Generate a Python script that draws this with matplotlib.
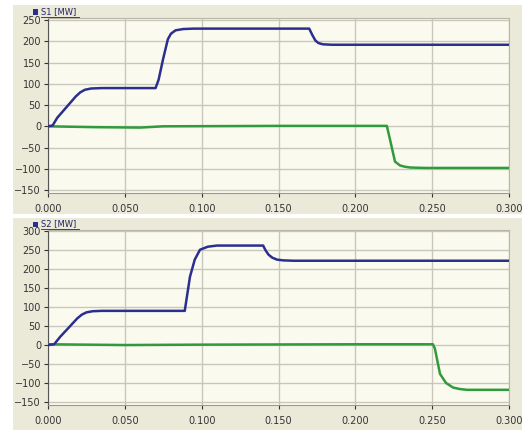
import matplotlib.pyplot as plt
from matplotlib.patches import Rectangle
from matplotlib.lines import Line2D

# S1 panel (top)
s1_t = [0, 0.003, 0.006, 0.012, 0.018, 0.021, 0.024, 0.028, 0.035, 0.070, 0.072,
        0.075, 0.078, 0.080, 0.083, 0.088, 0.095, 0.170, 0.172, 0.174, 0.176,
        0.179, 0.185, 0.300]
s1_blue = [0, 2, 20, 45, 70, 80, 86, 89, 90, 90, 110, 160, 205, 218, 226, 229,
           230, 230, 215, 202, 196, 193, 192, 192]
s1_green_t = [0, 0.030, 0.060, 0.075, 0.150, 0.2205, 0.2225, 0.2258, 0.229,
              0.232, 0.2356, 0.245, 0.300]
s1_green = [0, -2, -3, 0, 1, 1, -30, -83, -92, -95, -97, -98, -98]

# S2 panel (bottom)
s2_t = [0, 0.004, 0.008, 0.014, 0.019, 0.022, 0.025, 0.029, 0.035, 0.089,
        0.0905, 0.0924, 0.0955, 0.0989, 0.104, 0.110, 0.140, 0.1415, 0.1435,
        0.146, 0.149, 0.153, 0.160, 0.300]
s2_blue = [0, 2, 22, 48, 70, 80, 86, 89, 90, 90, 130, 180, 225, 251, 259, 262,
           262, 250, 238, 230, 225, 223, 222, 222]
s2_green_t = [0, 0.050, 0.100, 0.200, 0.2505, 0.2518, 0.2551, 0.259, 0.2636,
              0.268, 0.2727, 0.300]
s2_green = [2, 0, 1, 2, 2, -10, -76, -100, -112, -116, -118, -118]

x_ticks = [0, 0.05, 0.10, 0.15, 0.20, 0.25, 0.30]
x_labels = ["0.000", "0.050", "0.100", "0.150", "0.200", "0.250", "0.300"]

W, H = 522, 430
panel_bg = "#ebe9d8"
plot_bg = "#fbfaef"
grid_c = "#c9c7bc"
blue = "#2b2f8e"
green = "#2f9b3c"

fig = plt.figure(figsize=(W / 100, H / 100), dpi=100)
fig.patch.set_facecolor("white")


def px_rect(x0, y0, x1, y1):
    # pixel box (top-left origin) -> figure fraction [l, b, w, h]
    return [x0 / W, 1 - y1 / H, (x1 - x0) / W, (y1 - y0) / H]


def panel(box, axbox, ylim, yticks, t, blue_v, gt, green_v, label, leg_y):
    l, b, w, h = px_rect(*box)
    fig.add_artist(Rectangle((l, b), w, h, transform=fig.transFigure,
                             facecolor=panel_bg, edgecolor="none", zorder=0))
    ax = fig.add_axes(px_rect(*axbox))
    ax.set_facecolor(plot_bg)
    ax.plot(gt, green_v, color=green, lw=1.8, zorder=3)
    ax.plot(t, blue_v, color=blue, lw=1.8, zorder=4)
    ax.set_xlim(0, 0.3)
    ax.set_ylim(*ylim)
    ax.set_yticks(yticks)
    ax.set_xticks(x_ticks)
    ax.set_xticklabels(x_labels)
    ax.grid(True, color=grid_c, lw=1)
    ax.set_axisbelow(True)
    ax.tick_params(labelsize=7, colors="#333333", length=3, width=0.8, pad=2)
    ax.tick_params(axis="x", pad=5)
    for s in ["top", "right"]:
        ax.spines[s].set_color("#b8b6aa")
    ax.spines["left"].set_color("#555555")
    ax.spines["bottom"].set_color("#999990")
    # legend header
    lx, ly = 33 / W, 1 - leg_y / H
    fig.add_artist(Rectangle((lx, ly - 2.5 / H), 5 / W, 5 / H,
                             transform=fig.transFigure, facecolor=blue,
                             edgecolor="none"))
    fig.text(41 / W, ly, label, fontsize=6, color="#222266", va="center")
    fig.add_artist(Line2D([41 / W, 79 / W], [ly - 5 / H, ly - 5 / H],
                          transform=fig.transFigure, color="#222266", lw=0.6))
    return ax


panel((13, 5, W, 214), (48, 18, 509, 193), (-157, 255),
      [-150, -100, -50, 0, 50, 100, 150, 200, 250],
      s1_t, s1_blue, s1_green_t, s1_green, "S1 [MW]", 12)
panel((13, 218, W, H), (48, 230, 509, 405), (-158, 303),
      [-150, -100, -50, 0, 50, 100, 150, 200, 250, 300],
      s2_t, s2_blue, s2_green_t, s2_green, "S2 [MW]", 224)

fig.savefig("out.png", dpi=100)
